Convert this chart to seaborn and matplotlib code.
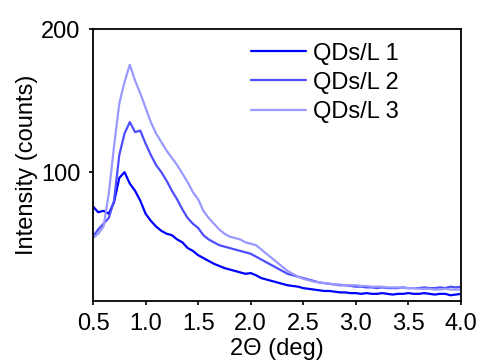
import numpy as np
import pandas as pd
import matplotlib
matplotlib.use("Agg")
import matplotlib.pyplot as plt
import seaborn as sns

# 2-theta grid (deg)
two_theta = np.round(np.arange(0.5, 4.0001, 0.05), 2)

qds_1 = [76, 72, 73, 71, 79, 96, 100, 92, 87, 80,
         71, 66, 62, 59, 57, 56, 53, 51, 47, 45,
         42, 40, 38, 36, 34.5, 33, 32, 31, 30, 29,
         29.5, 28, 26, 25, 24, 23, 22, 21, 20.5, 20,
         19, 18.5, 18, 17.5, 17, 17, 16.5, 16, 16, 15.5,
         15.5, 15, 15.5, 15, 15, 15.5, 15, 14.5, 15, 15,
         15.5, 15, 15, 15.5, 15, 14.5, 15, 15, 14, 14.5, 15]
qds_2 = [55, 60, 64, 68, 80, 112, 127, 135, 128, 129,
         120, 112, 105, 100, 94, 87, 81, 74, 68, 64,
         61, 56, 53, 51, 49, 48, 47, 46, 45, 44,
         43, 41, 39, 37, 35, 33, 31, 29, 28, 27,
         26, 25, 24, 23, 22.5, 22, 21.5, 21, 21, 20.5,
         20, 20, 19.5, 19.5, 19, 19.5, 19, 19, 19, 19.5,
         19, 19, 19, 19.5, 19, 19, 19.5, 19, 20, 19.5, 20]
qds_3 = [54, 57, 62, 85, 118, 148, 163, 175, 164, 155,
         145, 135, 127, 121, 115, 110, 105, 99, 93, 86,
         81, 73, 68, 64, 60, 57, 55, 54, 53, 51,
         50, 49, 46, 43, 40, 37, 34, 31, 29, 27,
         25.5, 24.5, 23.5, 23, 22.5, 22, 21.5, 21.5, 21, 21,
         21, 20.5, 20.5, 20, 20, 20, 19.5, 19.5, 19.5, 19,
         19, 19, 18.5, 18.5, 18.5, 18, 18, 18.5, 18, 18, 18]

labels = ["QDs/L 1", "QDs/L 2", "QDs/L 3"]
colors = ["#0000FF", "#4D4DFF", "#9999FF"]
x_ticks = [0.5, 1.0, 1.5, 2.0, 2.5, 3.0, 3.5, 4.0]
y_ticks = [100, 200]

df = pd.concat([
    pd.DataFrame({"x": two_theta, "y": vals, "series": lab})
    for vals, lab in zip([qds_1, qds_2, qds_3], labels)
], ignore_index=True)

sns.set_theme(style="ticks")
plt.rcParams["font.family"] = ["Liberation Sans", "DejaVu Sans"]
plt.rcParams["text.color"] = "black"
plt.rcParams["axes.labelcolor"] = "black"
fs = 17

fig = plt.figure(figsize=(4.8, 3.6), dpi=100)
ax = fig.add_axes([93/480, 1-301/360, (461-93)/480, (301-29)/360])

sns.lineplot(data=df, x="x", y="y", hue="series", palette=colors,
             hue_order=labels, linewidth=1.6, ax=ax, legend=True)

ax.set_xlim(0.5, 4.0)
ax.set_ylim(10, 200)
ax.set_xticks(x_ticks)
ax.set_xticklabels([f"{t:.1f}" for t in x_ticks])
ax.set_yticks(y_ticks)
ax.set_yticklabels([str(t) for t in y_ticks])
ax.tick_params(axis="both", labelsize=fs, length=3, width=1.2, pad=6,
               colors="black", labelcolor="black")
for s in ax.spines.values():
    s.set_linewidth(1.3)
    s.set_color("black")
    s.set_visible(True)

ax.set_xlabel("2Θ (deg)", fontsize=fs, labelpad=2, color="black")
ax.set_ylabel("Intensity (counts)", fontsize=fs, labelpad=2, color="black")

leg = ax.legend(frameon=False, loc="upper left", bbox_to_anchor=(0.429, 0.950),
                borderpad=0, borderaxespad=0, handlelength=2.33,
                handletextpad=0.3, labelspacing=0.3, fontsize=fs)
for t in leg.get_texts():
    t.set_color("black")
for h in leg.get_lines():
    h.set_linewidth(1.6)

fig.savefig("out.png", dpi=100)
